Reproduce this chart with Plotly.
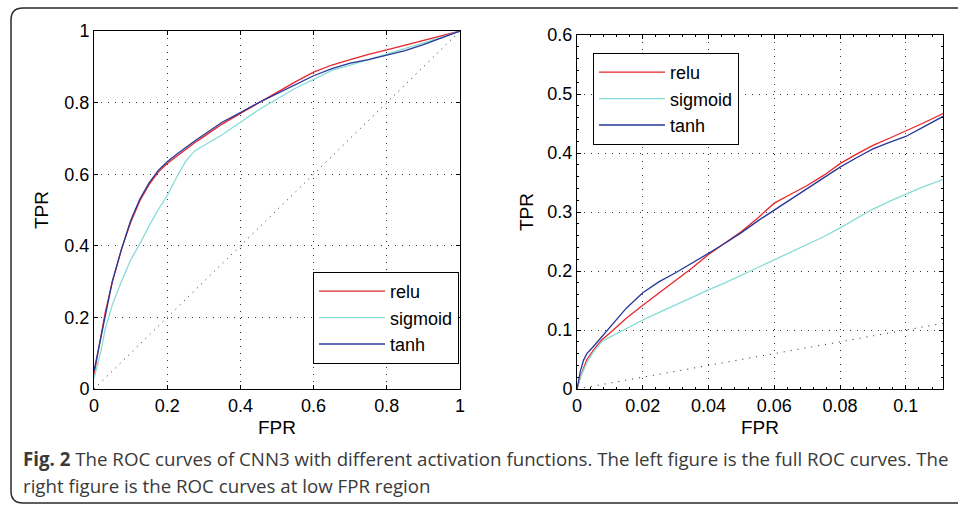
import plotly.graph_objects as go

W, H = 958, 505

# ---------------- data ----------------
full_fpr = [0, 0.01, 0.02, 0.03, 0.05, 0.075, 0.1, 0.125, 0.15, 0.175, 0.2, 0.225, 0.25, 0.275,
            0.3, 0.35, 0.4, 0.45, 0.5, 0.55, 0.6, 0.65, 0.7, 0.75, 0.8, 0.85, 0.9, 0.95, 1.0]
full_relu = [0.04, 0.10, 0.16, 0.21, 0.30, 0.39, 0.465, 0.525, 0.57, 0.605, 0.63, 0.65, 0.67, 0.688,
             0.705, 0.74, 0.77, 0.80, 0.83, 0.858, 0.885, 0.905, 0.92, 0.935, 0.947, 0.96, 0.975, 0.988, 1.0]
full_sigmoid = [0.03, 0.07, 0.11, 0.165, 0.235, 0.30, 0.36, 0.405, 0.455, 0.50, 0.54, 0.59, 0.635, 0.665,
                0.68, 0.71, 0.745, 0.78, 0.81, 0.84, 0.865, 0.89, 0.905, 0.92, 0.935, 0.95, 0.965, 0.982, 1.0]
full_tanh = [0.05, 0.10, 0.16, 0.21, 0.30, 0.39, 0.47, 0.53, 0.575, 0.61, 0.635, 0.655, 0.675, 0.693,
             0.71, 0.745, 0.772, 0.80, 0.825, 0.85, 0.875, 0.895, 0.91, 0.92, 0.932, 0.945, 0.962, 0.98, 1.0]

low_fpr = [0, 0.001, 0.002, 0.003, 0.005, 0.0075, 0.01, 0.015, 0.02, 0.025, 0.03, 0.035, 0.04, 0.045,
           0.05, 0.055, 0.06, 0.065, 0.07, 0.075, 0.08, 0.085, 0.09, 0.095, 0.1, 0.105, 0.1113]
low_relu = [0, 0.02, 0.035, 0.05, 0.066, 0.083, 0.095, 0.12, 0.142, 0.163, 0.185, 0.205, 0.228, 0.248,
            0.267, 0.29, 0.315, 0.33, 0.345, 0.362, 0.382, 0.398, 0.413, 0.425, 0.437, 0.45, 0.467]
low_sigmoid = [0, 0.02, 0.032, 0.045, 0.063, 0.08, 0.088, 0.103, 0.117, 0.13, 0.143, 0.156, 0.168, 0.18,
               0.193, 0.205, 0.218, 0.231, 0.245, 0.258, 0.273, 0.289, 0.305, 0.318, 0.33, 0.342, 0.355]
low_tanh = [0, 0.03, 0.049, 0.06, 0.072, 0.088, 0.105, 0.137, 0.163, 0.182, 0.197, 0.213, 0.23, 0.247,
            0.265, 0.285, 0.303, 0.322, 0.34, 0.357, 0.376, 0.392, 0.407, 0.418, 0.428, 0.443, 0.462]

x_max_low = 0.1113
full_ticks = [0, 0.2, 0.4, 0.6, 0.8, 1]
low_xticks = [0, 0.02, 0.04, 0.06, 0.08, 0.1]
low_yticks = [0, 0.1, 0.2, 0.3, 0.4, 0.5, 0.6]

series_names = ["relu", "sigmoid", "tanh"]
colors = {"relu": "#e8262a", "sigmoid": "#86dcd6", "tanh": "#27379a"}

# ---------------- figure ----------------
fig = go.Figure()

full_data = {"relu": full_relu, "sigmoid": full_sigmoid, "tanh": full_tanh}
low_data = {"relu": low_relu, "sigmoid": low_sigmoid, "tanh": low_tanh}

# diagonals (chance lines)
fig.add_trace(go.Scatter(x=[0, 1], y=[0, 1], mode="lines", xaxis="x", yaxis="y",
                         line=dict(color="#222", width=1, dash="1px,5px"), showlegend=False,
                         hoverinfo="skip"))
fig.add_trace(go.Scatter(x=[0, x_max_low], y=[0, x_max_low], mode="lines", xaxis="x2", yaxis="y2",
                         line=dict(color="#222", width=1, dash="1px,6px"), showlegend=False,
                         hoverinfo="skip"))

for name in series_names:
    fig.add_trace(go.Scatter(x=full_fpr, y=full_data[name], mode="lines", name=name,
                             xaxis="x", yaxis="y", legend="legend", legendgroup="L" + name,
                             line=dict(color=colors[name], width=1.3)))
for name in series_names:
    fig.add_trace(go.Scatter(x=low_fpr, y=low_data[name], mode="lines", name=name,
                             xaxis="x2", yaxis="y2", legend="legend2", legendgroup="R" + name,
                             line=dict(color=colors[name], width=1.3)))

tick_font = dict(family="Liberation Sans, Arial, sans-serif", size=18, color="black")

def px_x(p):
    return p / W

def px_y(p):
    return 1 - p / H

common_axis = dict(showline=True, linecolor="black", linewidth=1, mirror="ticks",
                   ticks="inside", ticklen=4, tickcolor="black", tickwidth=1,
                   showgrid=True, gridcolor="#333", gridwidth=1, griddash="1px,6px",
                   zeroline=False, tickfont=tick_font, automargin=False)

leg_font = dict(family="Liberation Sans, Arial, sans-serif", size=18, color="black")

fig.update_layout(
    width=W, height=H,
    margin=dict(l=0, r=0, t=0, b=0),
    paper_bgcolor="white", plot_bgcolor="white",
    xaxis=dict(domain=[px_x(94), px_x(460)], range=[0, 1], tickvals=full_ticks,
               anchor="y", **common_axis),
    yaxis=dict(domain=[px_y(389), px_y(31)], range=[0, 1], tickvals=full_ticks,
               anchor="x", **common_axis),
    xaxis2=dict(domain=[px_x(577), px_x(943)], range=[0, x_max_low], tickvals=low_xticks,
                anchor="y2",
                minor=dict(ticks="inside", ticklen=2, tickcolor="black", dtick=0.004, showgrid=False),
                **common_axis),
    yaxis2=dict(domain=[px_y(389), px_y(35)], range=[0, 0.6], tickvals=low_yticks,
                anchor="x2",
                minor=dict(ticks="inside", ticklen=2, tickcolor="black", dtick=0.02, showgrid=False),
                **common_axis),
    legend=dict(x=px_x(313), y=px_y(272), xanchor="left", yanchor="top",
                bordercolor="black", borderwidth=1, bgcolor="white",
                font=leg_font, itemwidth=66, tracegroupgap=0),
    legend2=dict(x=px_x(593), y=px_y(53), xanchor="left", yanchor="top",
                 bordercolor="black", borderwidth=1, bgcolor="white",
                 font=leg_font, itemwidth=66, tracegroupgap=0),
    showlegend=True,
)

label_font = dict(family="Liberation Sans, Arial, sans-serif", size=19, color="black")
annotations = [
    dict(text="FPR", x=px_x(277), y=px_y(427), xref="paper", yref="paper",
         showarrow=False, font=label_font, xanchor="center", yanchor="middle"),
    dict(text="FPR", x=px_x(760), y=px_y(427), xref="paper", yref="paper",
         showarrow=False, font=label_font, xanchor="center", yanchor="middle"),
    dict(text="TPR", x=px_x(42), y=px_y(210), xref="paper", yref="paper", textangle=-90,
         showarrow=False, font=label_font, xanchor="center", yanchor="middle"),
    dict(text="TPR", x=px_x(527), y=px_y(212), xref="paper", yref="paper", textangle=-90,
         showarrow=False, font=label_font, xanchor="center", yanchor="middle"),
]
cap_font = dict(family="Open Sans, Noto Sans, sans-serif", size=18.7, color="#3a3a3a")
annotations += [
    dict(text="<b>Fig. 2</b> The ROC curves of CNN3 with different activation functions. "
              "The left figure is the full ROC curves. The",
         x=px_x(21), y=px_y(458), xref="paper", yref="paper", showarrow=False,
         font=cap_font, xanchor="left", yanchor="middle", align="left"),
    dict(text="right figure is the ROC curves at low FPR region",
         x=px_x(21), y=px_y(485), xref="paper", yref="paper", showarrow=False,
         font=cap_font, xanchor="left", yanchor="middle", align="left"),
]
fig.update_layout(annotations=annotations)

# rounded frame around the figure (open on the right, beyond the canvas)
x0, x1 = px_x(11), 1.02
y0, y1 = px_y(503), px_y(8)
rx, ry = 12 / W, 12 / H
path = (f"M {x1},{y1} L {x0 + rx},{y1} Q {x0},{y1} {x0},{y1 - ry} "
        f"L {x0},{y0 + ry} Q {x0},{y0} {x0 + rx},{y0} L {x1},{y0}")
fig.add_shape(type="path", path=path, xref="paper", yref="paper",
              line=dict(color="#2a2a2a", width=1.5), layer="above")

fig.write_html("out.html")
